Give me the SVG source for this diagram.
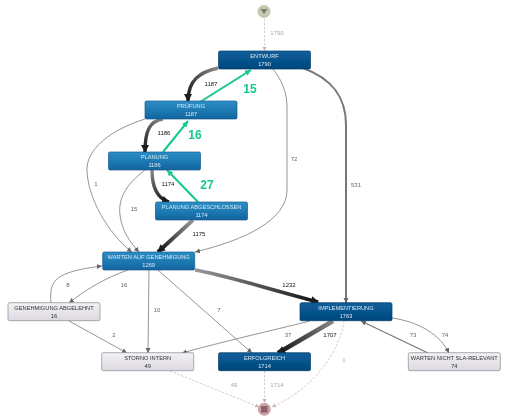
<svg xmlns="http://www.w3.org/2000/svg" width="514" height="420" viewBox="0 0 514 420">
<style>
svg>g{filter:url(#soft)}
text{font-family:"Liberation Sans",Arial,sans-serif;text-anchor:middle}
.n{font-size:5.7px;fill:#d8e8f4}
.g{font-size:5.7px;fill:#333}
.l{font-size:6px;fill:#666}
.k{font-size:6px;fill:#111}
.f{font-size:6px;fill:#aaa}
.t{font-size:12px;font-weight:bold;fill:#14c88f}
.box{stroke-width:.7}
.dark{fill:url(#dk);stroke:#0a3d66}
.mid{fill:url(#md);stroke:#125a8c}
.gray{fill:url(#gr);stroke:#8a8a90}
.e{fill:none}
.thin{stroke:#888;stroke-width:.9;marker-end:url(#a1)}
.thin2{stroke:#777;stroke-width:1.2;marker-end:url(#a1)}
.dash{stroke:#d3b9bd;stroke-width:.8;stroke-dasharray:2.5 1.5;marker-end:url(#a3)}
.tb{stroke-width:3.4;marker-end:url(#a2)}
.gn{stroke:#14c88f;stroke-width:2;marker-end:url(#a4)}
</style>
<defs>
<filter id="soft" x="0" y="0" width="514" height="420" filterUnits="userSpaceOnUse"><feGaussianBlur stdDeviation="0.35"/></filter>
<linearGradient id="dk" x1="0" y1="0" x2="0" y2="1"><stop offset="0" stop-color="#0a5f9c"/><stop offset="1" stop-color="#03477c"/></linearGradient>
<linearGradient id="md" x1="0" y1="0" x2="0" y2="1"><stop offset="0" stop-color="#2b8fc6"/><stop offset="1" stop-color="#12659f"/></linearGradient>
<linearGradient id="gr" x1="0" y1="0" x2="0" y2="1"><stop offset="0" stop-color="#f3f1f5"/><stop offset="1" stop-color="#dcdae0"/></linearGradient>
<linearGradient id="t1" gradientUnits="userSpaceOnUse" x1="218" y1="68" x2="188" y2="101"><stop offset="0" stop-color="#888"/><stop offset="1" stop-color="#111"/></linearGradient>
<linearGradient id="t2" gradientUnits="userSpaceOnUse" x1="163" y1="119" x2="145" y2="152"><stop offset="0" stop-color="#888"/><stop offset="1" stop-color="#111"/></linearGradient>
<linearGradient id="t3" gradientUnits="userSpaceOnUse" x1="152" y1="170" x2="169" y2="202"><stop offset="0" stop-color="#888"/><stop offset="1" stop-color="#111"/></linearGradient>
<linearGradient id="t4" gradientUnits="userSpaceOnUse" x1="193" y1="220" x2="158" y2="252"><stop offset="0" stop-color="#999"/><stop offset="1" stop-color="#111"/></linearGradient>
<linearGradient id="t5" gradientUnits="userSpaceOnUse" x1="195" y1="270" x2="318" y2="302"><stop offset="0" stop-color="#999"/><stop offset="1" stop-color="#111"/></linearGradient>
<linearGradient id="t6" gradientUnits="userSpaceOnUse" x1="333" y1="321" x2="278" y2="353"><stop offset="0" stop-color="#888"/><stop offset="1" stop-color="#111"/></linearGradient>
<marker id="a1" markerUnits="userSpaceOnUse" markerWidth="6" markerHeight="6" refX="5" refY="2.5" orient="auto"><path d="M0 0L5 2.5L0 5z" fill="#666"/></marker>
<marker id="a2" markerUnits="userSpaceOnUse" markerWidth="9" markerHeight="9" refX="7" refY="4" orient="auto"><path d="M0 0L8 4L0 8z" fill="#1c1c1c"/></marker>
<marker id="a3" markerUnits="userSpaceOnUse" markerWidth="5" markerHeight="5" refX="4" refY="2" orient="auto"><path d="M0 0L4 2L0 4z" fill="#c9aeb3"/></marker>
<marker id="a4" markerUnits="userSpaceOnUse" markerWidth="8" markerHeight="8" refX="6" refY="3" orient="auto"><path d="M0 0L6 3L0 6z" fill="#14c88f"/></marker>
</defs>
<g id="connectors" class="e">
<path class="dash" d="M264.5 19V51"/>
<path class="tb" stroke="url(#t1)" d="M218 68C200 72 188 80 188 101"/>
<path class="tb" stroke="url(#t2)" d="M163 119C150 121 145 130 145 152"/>
<path class="tb" stroke="url(#t3)" d="M152 170C152 186 156 198 169 202"/>
<path class="tb" stroke="url(#t4)" style="stroke-width:3.8" d="M193 220L158 252"/>
<path class="thin" d="M145 119C110 130 85 150 87 172C89 205 115 240 132 252"/>
<path class="thin" d="M145 170C125 185 118 200 120 215C122 232 131 243 139 252"/>
<path class="thin" d="M272 68C282 80 287 92 287 108V190C287 220 245 240 195 252"/>
<path class="thin2" d="M303 68C330 78 346 95 346 125V303" style="stroke-width:2;stroke:#777"/>
<path class="tb" stroke="url(#t5)" style="stroke-width:3.6" d="M195 270C220 274 255 285 318 302"/>
<path class="tb" stroke="url(#t6)" style="stroke-width:4.6" d="M333 321L278 353"/>
<path class="thin" d="M310 321C270 331 225 341 182 353"/>
<path class="thin" d="M128 270C105 278 85 290 69 303"/>
<path class="thin" d="M51 303C49 280 55 272 102 266"/>
<path class="thin" d="M149 270L148 353"/>
<path class="thin" d="M158 270L252 353"/>
<path class="thin" d="M69 321L127 353"/>
<path class="dash" d="M170 371L259 407"/>
<path class="dash" d="M264.5 371V403"/>
<path class="dash" d="M344 321C340 350 315 388 272 407"/>
<path class="thin2" d="M428 353L361 321"/>
<path class="thin" d="M392 318C420 322 440 335 449 353"/>
<path class="gn" d="M200 102L251 70"/>
<path class="gn" d="M163 152L188 121"/>
<path class="gn" d="M198 202L167 170"/>
</g>
<g id="edge-labels">
<text class="f" x="277" y="35">1790</text>
<text class="k" x="211" y="85.500">1187</text>
<text class="k" x="164" y="135">1186</text>
<text class="k" x="168" y="186">1174</text>
<text class="k" x="199" y="236">1175</text>
<text class="k" x="289" y="286.500">1232</text>
<text class="k" x="330" y="337">1707</text>
<text class="l" x="96" y="186">1</text>
<text class="l" x="134" y="210.500">15</text>
<text class="l" x="294" y="161">72</text>
<text class="l" x="356" y="187">531</text>
<text class="l" x="68" y="286.500">8</text>
<text class="l" x="124" y="286.500">16</text>
<text class="l" x="157" y="311.500">10</text>
<text class="l" x="219" y="311.500">7</text>
<text class="l" x="114" y="337">2</text>
<text class="l" x="288" y="337">37</text>
<text class="l" x="413" y="337">73</text>
<text class="l" x="445" y="337">74</text>
<text class="f" x="234" y="387">49</text>
<text class="f" x="277" y="387">1714</text>
<text class="f" x="344" y="362">1</text>
<text class="t" x="250" y="93">15</text>
<text class="t" x="195" y="139">16</text>
<text class="t" x="207" y="189">27</text>
</g>
<g id="start"><circle cx="264" cy="11.500" r="6" fill="#c9c9ad" stroke="#b5b59b" stroke-width=".7"/><path d="M260.500 9H267.500L264 14z" fill="#6f7f6f"/></g>
<g id="end"><circle cx="264.300" cy="409.300" r="6" fill="#cfa3a8" stroke="#b98a90" stroke-width=".7"/><rect x="261" y="406" width="6.600" height="6.600" fill="#8a6268"/></g>
<g id="entwurf"><rect class="box dark" x="218.500" y="51" width="92" height="18" rx="1.500"/><text class="n" x="264.500" y="58">ENTWURF</text><text class="n" x="264.500" y="66">1790</text></g>
<g id="pruefung"><rect class="box mid" x="145" y="101" width="92" height="18" rx="1.500"/><text class="n" x="191" y="108">PRÜFUNG</text><text class="n" x="191" y="116">1187</text></g>
<g id="planung"><rect class="box mid" x="108.500" y="152" width="92" height="18" rx="1.500"/><text class="n" x="154.500" y="159">PLANUNG</text><text class="n" x="154.500" y="167">1186</text></g>
<g id="planung-abgeschlossen"><rect class="box mid" x="155.500" y="202" width="92" height="18" rx="1.500"/><text class="n" x="201.500" y="209">PLANUNG ABGESCHLOSSEN</text><text class="n" x="201.500" y="217">1174</text></g>
<g id="warten-genehmigung"><rect class="box mid" x="102.700" y="252" width="92" height="18" rx="1.500"/><text class="n" x="148.700" y="259">WARTEN AUF GENEHMIGUNG</text><text class="n" x="148.700" y="267">1269</text></g>
<g id="genehmigung-abgelehnt"><rect class="box gray" x="8" y="302.700" width="92" height="18" rx="1.500"/><text class="g" x="54" y="309.700">GENEHMIGUNG ABGELEHNT</text><text class="g" x="54" y="317.700">16</text></g>
<g id="implementierung"><rect class="box dark" x="300" y="302.700" width="92" height="18" rx="1.500"/><text class="n" x="346" y="309.700">IMPLEMENTIERUNG</text><text class="n" x="346" y="317.700">1763</text></g>
<g id="storno-intern"><rect class="box gray" x="101.700" y="352.700" width="92" height="18" rx="1.500"/><text class="g" x="147.700" y="359.700">STORNO INTERN</text><text class="g" x="147.700" y="367.700">49</text></g>
<g id="erfolgreich"><rect class="box dark" x="218.500" y="352.700" width="92" height="18" rx="1.500"/><text class="n" x="264.500" y="359.700">ERFOLGREICH</text><text class="n" x="264.500" y="367.700">1714</text></g>
<g id="warten-nicht-sla"><rect class="box gray" x="408.300" y="352.700" width="92" height="18" rx="1.500"/><text class="g" x="454.300" y="359.700">WARTEN NICHT SLA-RELEVANT</text><text class="g" x="454.300" y="367.700">74</text></g>
</svg>
